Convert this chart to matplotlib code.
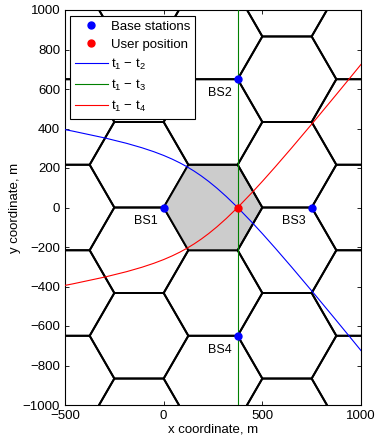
import numpy as np
import matplotlib
matplotlib.use("Agg")
import matplotlib.pyplot as plt
from matplotlib.patches import RegularPolygon

plt.rcParams['font.family'] = ['Liberation Sans', 'DejaVu Sans']
plt.rcParams['mathtext.fontset'] = 'custom'
plt.rcParams['mathtext.rm'] = 'Liberation Sans'
plt.rcParams['mathtext.it'] = 'Liberation Sans'

# ---- data ----
# hexagonal cell centres (flat-top cells, circumradius 250 m)
hex_x = [-500, -500, -500, -500, -500,
         -125, -125, -125, -125, -125, -125,
         250, 250, 250, 250, 250,
         625, 625, 625, 625, 625, 625,
         1000, 1000, 1000, 1000, 1000]
hex_y = [-866, -433, 0, 433, 866,
         -1082.5, -649.5, -216.5, 216.5, 649.5, 1082.5,
         -866, -433, 0, 433, 866,
         -1082.5, -649.5, -216.5, 216.5, 649.5, 1082.5,
         -866, -433, 0, 433, 866]
hex_radius = 250
serving_cell = (250, 0)

bs_x = [0, 375, 750, 375]
bs_y = [0, 649.5, 0, -649.5]
bs_names = ['BS1', 'BS2', 'BS3', 'BS4']

user_x = [375]
user_y = [0]

# hyperbola t1 - t2
t12_x = [-587.1, -461.0, -294.9, -187.5, -110.1, -49.8, 0.0, 43.2, 82.2, 118.9,
         154.5, 190.5, 228.3, 269.6, 317.0, 375.0, 451.6, 502.1, 565.5, 649.5,
         768.4, 868.1, 953.9, 1004.5]
t12_y = [411.1, 386.8, 351.4, 324.8, 302.5, 282.5, 263.6, 244.9, 225.9, 205.9,
         184.2, 159.9, 131.8, 98.1, 55.9, 0.0, -79.6, -134.5, -205.8, -302.9,
         -443.6, -563.7, -668.0, -729.9]
# hyperbola t1 - t3
t13_x = [375, 375]
t13_y = [-1000, 1000]
# hyperbola t1 - t4
t14_x = [-587.1, -461.0, -294.9, -187.5, -110.1, -49.8, 0.0, 43.2, 82.2, 118.9,
         154.5, 190.5, 228.3, 269.6, 317.0, 375.0, 451.6, 502.1, 565.5, 649.5,
         768.4, 868.1, 953.9, 1004.5]
t14_y = [-411.1, -386.8, -351.4, -324.8, -302.5, -282.5, -263.6, -244.9, -225.9, -205.9,
         -184.2, -159.9, -131.8, -98.1, -55.9, 0.0, 79.6, 134.5, 205.8, 302.9,
         443.6, 563.7, 668.0, 729.9]

x_ticks = [-500, 0, 500, 1000]
y_ticks = [-1000, -800, -600, -400, -200, 0, 200, 400, 600, 800, 1000]

# ---- figure ----
fig = plt.figure(figsize=(3.75, 4.37), dpi=100)
ax = fig.add_axes([65/375, 32/437, 296/375, 395/437])

for cx, cy in zip(hex_x, hex_y):
    fc = '#cccccc' if (cx, cy) == serving_cell else 'none'
    ax.add_patch(RegularPolygon((cx, cy), numVertices=6, radius=hex_radius,
                                orientation=np.pi/6, facecolor=fc,
                                edgecolor='black', linewidth=1.4, zorder=1))

ax.plot(t12_x, t12_y, color='#0000ff', lw=0.8, zorder=3, label='t$_1$ \u2212 t$_2$')
ax.plot(t13_x, t13_y, color='#008000', lw=0.8, zorder=3, label='t$_1$ \u2212 t$_3$')
ax.plot(t14_x, t14_y, color='#ff0000', lw=0.8, zorder=3, label='t$_1$ \u2212 t$_4$')

h_bs, = ax.plot(bs_x, bs_y, 'o', color='#0000ff', ms=5, zorder=4, label='Base stations')
h_us, = ax.plot(user_x, user_y, 'o', color='#ff0000', ms=5, zorder=5, label='User position')

for x, y, n in zip(bs_x, bs_y, bs_names):
    ax.annotate(n, xy=(x, y), xytext=(-4, -10), textcoords='offset points',
                ha='right', va='center', fontsize=9, zorder=6)

ax.set_xlim(-500, 1000)
ax.set_ylim(-1000, 1000)
ax.set_xticks(x_ticks)
ax.set_yticks(y_ticks)
ax.tick_params(direction='in', top=True, right=True, length=3, labelsize=9.5, width=0.6)
for s in ax.spines.values():
    s.set_linewidth(0.8)
ax.set_xlabel('x coordinate, m', fontsize=9.5, labelpad=1)
ax.set_ylabel('y coordinate, m', fontsize=9.5, labelpad=1)

handles, labels = ax.get_legend_handles_labels()
order = [3, 4, 0, 1, 2]
leg = ax.legend([handles[i] for i in order], [labels[i] for i in order],
                loc='upper left', bbox_to_anchor=(0.017, 0.985), borderaxespad=0,
                fontsize=9.5, handlelength=2.5, fancybox=False, framealpha=1,
                edgecolor='black', labelspacing=0.45, handletextpad=0.25,
                borderpad=0.35)
leg.get_frame().set_linewidth(0.8)
leg.set_zorder(10)

fig.savefig('out.png', dpi=100)
